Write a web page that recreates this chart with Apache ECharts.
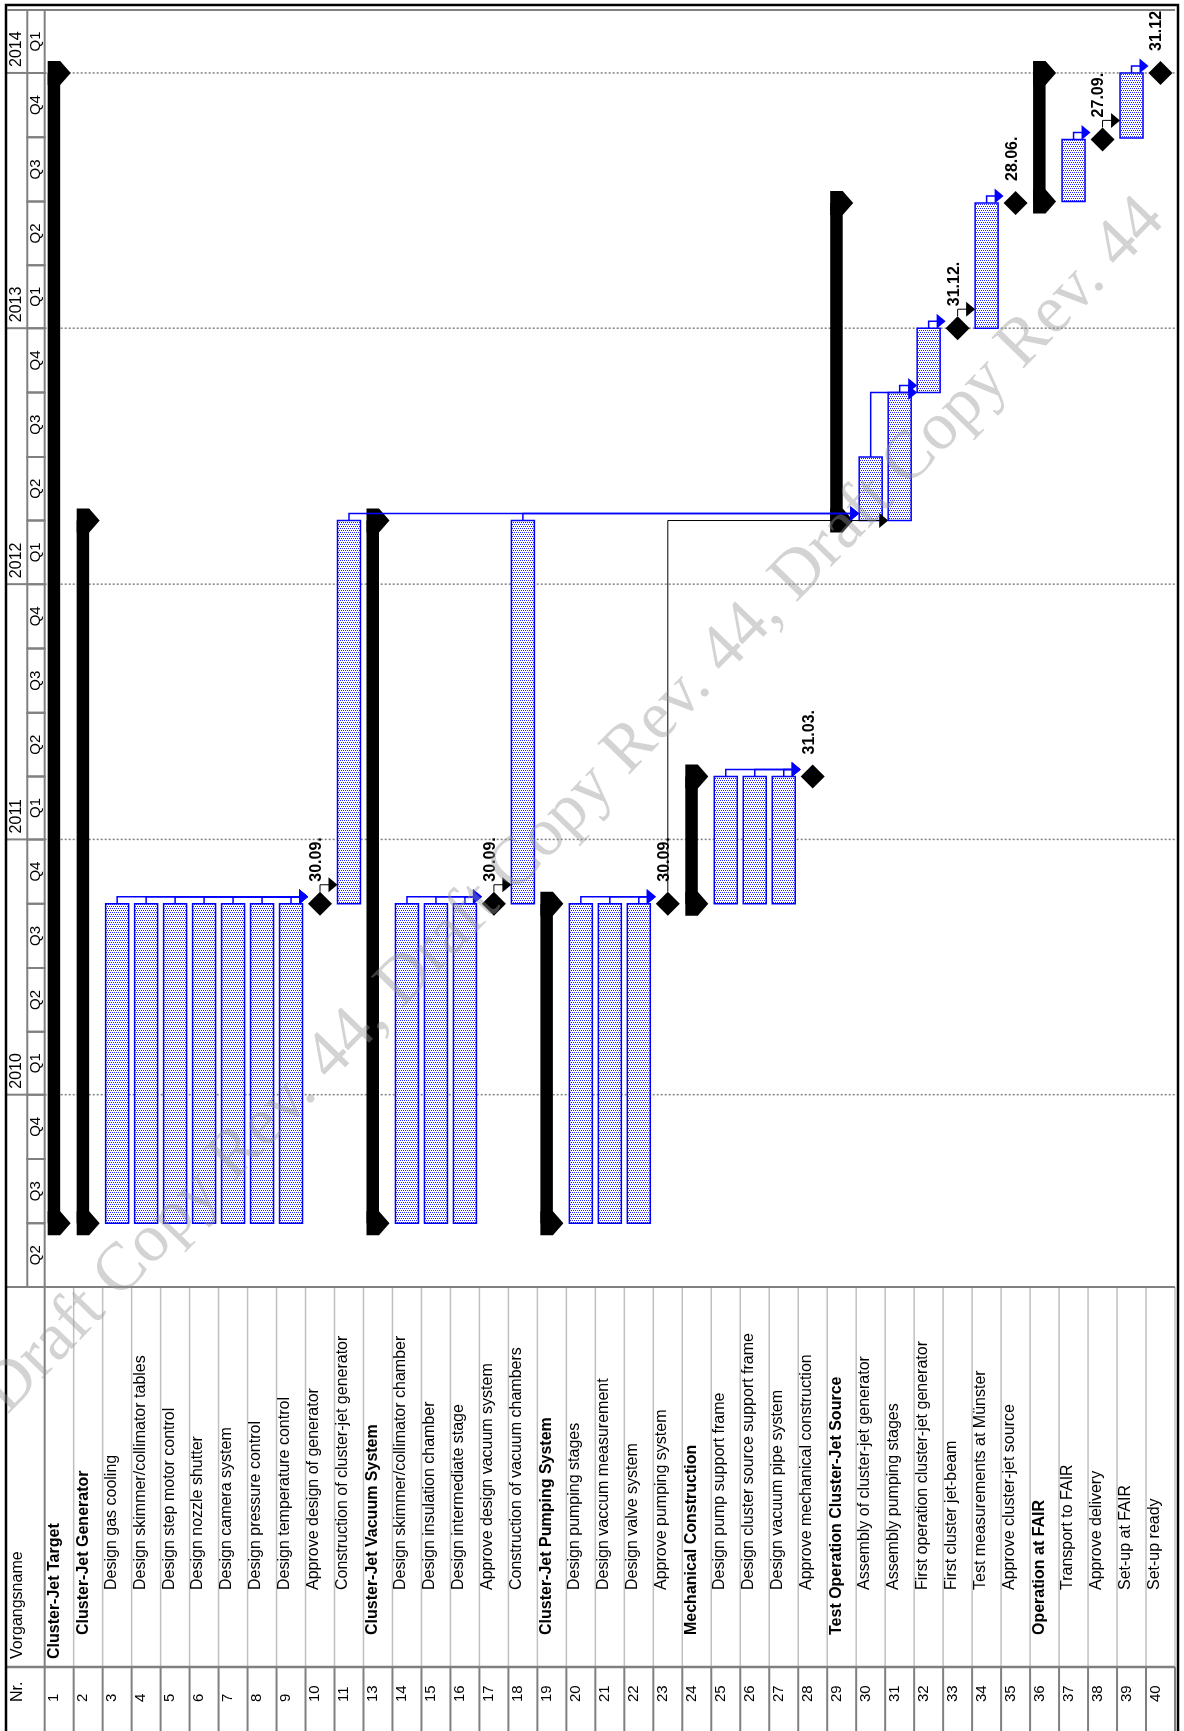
<!DOCTYPE html>
<html>
<head>
<meta charset="utf-8">
<script src="https://cdn.jsdelivr.net/npm/echarts@6/dist/echarts.min.js"></script>
<style>
html, body { margin: 0; padding: 0; background: #fff; }
#chart { width: 1184px; height: 1731px; }
</style>
</head>
<body>
<div id="chart"></div>
<script>
// rows of the project plan (Nr. 12 is not shown in the plan)
var taskNr = [1, 2, 3, 4, 5, 6, 7, 8, 9, 10, 11, 13, 14, 15, 16, 17, 18, 19, 20, 21, 22, 23, 24, 25, 26, 27, 28, 29, 30, 31, 32, 33, 34, 35, 36, 37, 38, 39, 40];
var taskName = [
  'Cluster-Jet Target', 'Cluster-Jet Generator', 'Design gas cooling', 'Design skimmer/collimator tables',
  'Design step motor control', 'Design nozzle shutter', 'Design camera system', 'Design pressure control',
  'Design temperature control', 'Approve design of generator', 'Construction of cluster-jet generator',
  'Cluster-Jet Vacuum System', 'Design skimmer/collimator chamber', 'Design insulation chamber',
  'Design intermediate stage', 'Approve design vacuum system', 'Construction of vacuum chambers',
  'Cluster-Jet Pumping System', 'Design pumping stages', 'Design vaccum measurement', 'Design valve system',
  'Approve pumping system', 'Mechanical Construction', 'Design pump support frame',
  'Design cluster source support frame', 'Design vacuum pipe system', 'Approve mechanical construction',
  'Test Operation Cluster-Jet Source', 'Assembly of cluster-jet generator', 'Assembly pumping stages',
  'First operation cluster-jet generator', 'First cluster jet-beam', 'Test measurements at Münster',
  'Approve cluster-jet source', 'Operation at FAIR', 'Transport to FAIR', 'Approve delivery',
  'Set-up at FAIR', 'Set-up ready'
];
var taskLevel = [0, 1, 2, 2, 2, 2, 2, 2, 2, 2, 2, 1, 2, 2, 2, 2, 2, 1, 2, 2, 2, 2, 1, 2, 2, 2, 2, 1, 2, 2, 2, 2, 2, 2, 1, 2, 2, 2, 2];
// S = summary, T = task, M = milestone
var taskKind = ['S', 'S', 'T', 'T', 'T', 'T', 'T', 'T', 'T', 'M', 'T', 'S', 'T', 'T', 'T', 'M', 'T', 'S', 'T', 'T', 'T', 'M', 'S', 'T', 'T', 'T', 'M', 'S', 'T', 'T', 'T', 'M', 'T', 'M', 'S', 'T', 'M', 'T', 'M'];
var taskStart = [
  '2009-07-01', '2009-07-01', '2009-07-01', '2009-07-01', '2009-07-01', '2009-07-01', '2009-07-01', '2009-07-01',
  '2009-07-01', '2010-09-30', '2010-10-01', '2009-07-01', '2009-07-01', '2009-07-01', '2009-07-01', '2010-09-30',
  '2010-10-01', '2009-07-01', '2009-07-01', '2009-07-01', '2009-07-01', '2010-09-30', '2010-10-01', '2010-10-01',
  '2010-10-01', '2010-10-01', '2011-03-31', '2012-04-01', '2012-04-01', '2012-04-01', '2012-10-01', '2012-12-31',
  '2013-01-01', '2013-06-28', '2013-07-01', '2013-07-01', '2013-09-27', '2013-09-30', '2013-12-31'
];
var taskEnd = [
  '2013-12-31', '2012-03-31', '2010-09-30', '2010-09-30', '2010-09-30', '2010-09-30', '2010-09-30', '2010-09-30',
  '2010-09-30', '2010-09-30', '2012-03-31', '2012-03-31', '2010-09-30', '2010-09-30', '2010-09-30', '2010-09-30',
  '2012-03-31', '2010-09-30', '2010-09-30', '2010-09-30', '2010-09-30', '2010-09-30', '2011-03-31', '2011-03-31',
  '2011-03-31', '2011-03-31', '2011-03-31', '2013-06-28', '2012-06-30', '2012-09-30', '2012-12-31', '2012-12-31',
  '2013-06-28', '2013-06-28', '2013-12-31', '2013-09-27', '2013-09-27', '2013-12-31', '2013-12-31'
];
var milestoneText = ['', '', '', '', '', '', '', '', '', '30.09.', '', '', '', '', '', '30.09.', '', '', '', '', '', '30.09.', '', '', '', '', '31.03.', '', '', '', '', '31.12.', '', '28.06.', '', '', '27.09.', '', '31.12'];

// finish-to-start links, by Nr.
var linkFrom = [3, 4, 5, 6, 7, 8, 9, 10, 14, 15, 16, 17, 20, 21, 22, 23, 25, 26, 27, 11, 18, 30, 31, 32, 33, 34, 37, 38, 39];
var linkTo = [10, 10, 10, 10, 10, 10, 10, 11, 17, 17, 17, 18, 23, 23, 23, 31, 28, 28, 28, 30, 30, 32, 32, 33, 34, 35, 38, 39, 40];

// timescale
var quarterStart = ['2009-04-01', '2009-07-01', '2009-10-01', '2010-01-01', '2010-04-01', '2010-07-01', '2010-10-01',
  '2011-01-01', '2011-04-01', '2011-07-01', '2011-10-01', '2012-01-01', '2012-04-01', '2012-07-01', '2012-10-01',
  '2013-01-01', '2013-04-01', '2013-07-01', '2013-10-01', '2014-01-01', '2014-04-01'];
var quarterLabel = ['Q2', 'Q3', 'Q4', 'Q1', 'Q2', 'Q3', 'Q4', 'Q1', 'Q2', 'Q3', 'Q4', 'Q1', 'Q2', 'Q3', 'Q4', 'Q1', 'Q2', 'Q3', 'Q4', 'Q1'];
var yearStart = ['2010-01-01', '2011-01-01', '2012-01-01', '2013-01-01', '2014-01-01'];
var yearLabel = ['2010', '2011', '2012', '2013', '2014'];

var DAY = 86400000;
function t(s) {
  var p = s.split('-');
  return Date.UTC(+p[0], +p[1] - 1, +p[2]);
}
var tMin = t(quarterStart[0]);
var tMax = t(quarterStart[quarterStart.length - 1]);

// x axis: one unit = one table row; negative part holds the timescale / header column
var X_MIN = -1.3, Q_COL = -0.6, X_MAX = taskNr.length;
var TABLE_H = 444, NR_LINE = 380, NR_START = 415;
var levelStart = [372, 348, 303];
var FONT = 'Liberation Sans, Arial, sans-serif';

// dotted fill of the task bars
var pat = document.createElement('canvas');
pat.width = 4; pat.height = 4;
var g = pat.getContext('2d');
g.fillStyle = '#ffffff';
g.fillRect(0, 0, 4, 4);
g.fillStyle = '#2020ff';
g.fillRect(0, 0, 1, 1);
g.fillRect(2, 0, 1, 1);
g.fillRect(1, 2, 1, 1);
g.fillRect(3, 2, 1, 1);
var barFill = { image: pat, repeat: 'repeat' };

function tStart(i) { return taskKind[i] === 'M' ? t(taskEnd[i]) + DAY : t(taskStart[i]); }
function tEnd(i) { return t(taskEnd[i]) + DAY; }
function rowOf(nr) { return taskNr.indexOf(nr); }

function vText(x, y, text, size, weight, align, valign) {
  return {
    type: 'text', x: x, y: y, rotation: Math.PI / 2,
    style: {
      text: text, fill: '#000', fontFamily: FONT, fontSize: size, fontWeight: weight || 'normal',
      align: align || 'left', verticalAlign: valign || 'top'
    }
  };
}

function renderBar(params, api) {
  var i = api.value(0);
  var x0 = api.coord([i, tMin])[0], x1 = api.coord([i + 1, tMin])[0];
  var ys = api.coord([i, api.value(1)])[1], ye = api.coord([i, api.value(2)])[1];
  var k = taskKind[i];
  if (k === 'T') {
    return {
      type: 'rect', shape: { x: x0 + 3, y: ye, width: x1 - x0 - 6, height: ys - ye },
      style: { fill: barFill, stroke: '#0000ff', lineWidth: 1.5 }
    };
  }
  if (k === 'S') {
    var bx = x0 + 3;
    var cap = function (yc) {
      return {
        type: 'polygon',
        shape: { points: [[bx, yc - 12], [bx + 12.5, yc - 12], [bx + 23, yc], [bx + 12.5, yc + 12], [bx, yc + 12]] },
        style: { fill: '#000' }
      };
    };
    return {
      type: 'group', children: [
        { type: 'rect', shape: { x: bx, y: ye, width: 12.5, height: ys - ye }, style: { fill: '#000' } },
        cap(ys), cap(ye)
      ]
    };
  }
  var cx = (x0 + x1) / 2;
  return {
    type: 'group', children: [
      {
        type: 'polygon', shape: { points: [[cx, ye - 12], [cx + 12, ye], [cx, ye + 12], [cx - 12, ye]] },
        style: { fill: '#000' }
      },
      vText(cx - 11.5, ye - 22, milestoneText[i], 16, 'bold')
    ]
  };
}

function renderLink(params, api) {
  var k = api.value(0);
  var a = rowOf(linkFrom[k]), b = rowOf(linkTo[k]);
  var ax = api.coord([a + 0.5, tMin])[0];
  var aTop = api.coord([a, tEnd(a)])[1];
  if (taskKind[a] === 'M') aTop -= 12;
  var bx0 = api.coord([b, tMin])[0], bx = api.coord([b + 0.5, tMin])[0];
  var bStart = api.coord([b, tStart(b)])[1];
  var yl = Math.min(aTop - 7, bStart);
  var tip = taskKind[b] === 'M' ? bx - 12 : bx0 + 3;
  var col = taskKind[a] === 'M' ? '#000' : '#0000ff';
  return {
    type: 'group', children: [
      {
        type: 'polyline', shape: { points: [[ax, aTop], [ax, yl], [tip - 6, yl]] },
        style: { stroke: col, lineWidth: taskKind[a] === 'M' ? 1 : 1.5, fill: null }
      },
      { type: 'polygon', shape: { points: [[tip, yl], [tip - 9, yl - 7.5], [tip - 9, yl + 7.5]] }, style: { fill: col } }
    ]
  };
}

function renderQuarter(params, api) {
  var xq = api.coord([Q_COL, tMin])[0], xg = api.coord([0, tMin])[0];
  var ys = api.coord([0, api.value(0)])[1], ye = api.coord([0, api.value(1)])[1];
  return {
    type: 'group', children: [
      { type: 'rect', shape: { x: xq, y: ye, width: xg - xq, height: ys - ye }, style: { fill: null, stroke: '#808080', lineWidth: 2 } },
      vText(xq + 1.5, (ys + ye) / 2, quarterLabel[api.value(2)], 15, 'normal', 'center')
    ]
  };
}

function renderYear(params, api) {
  var ts = api.value(0);
  var xa = api.coord([X_MIN, ts])[0], xq = api.coord([Q_COL, ts])[0];
  var xg = api.coord([0, ts])[0], xe = api.coord([X_MAX, ts])[0];
  var y = api.coord([0, ts])[1];
  return {
    type: 'group', children: [
      { type: 'line', shape: { x1: xa, y1: y, x2: xq, y2: y }, style: { stroke: '#808080', lineWidth: 2 } },
      { type: 'line', shape: { x1: xg, y1: y, x2: xe, y2: y }, style: { stroke: '#808080', lineWidth: 1.5, lineDash: [2, 2] } },
      vText(xa + 2, y - 6, yearLabel[api.value(1)], 16)
    ]
  };
}

function renderRow(params, api) {
  var i = api.value(0);
  var x0 = api.coord([i, 0])[0], x1 = api.coord([i + 1, 0])[0];
  var yTop = api.coord([i, 0])[1], yMid = api.coord([i, NR_LINE])[1], yBot = api.coord([i, TABLE_H])[1];
  var bold = taskKind[i] === 'S';
  return {
    type: 'group', children: [
      { type: 'line', shape: { x1: x1, y1: yTop, x2: x1, y2: yMid }, style: { stroke: '#c0c0c0', lineWidth: 1.5 } },
      { type: 'line', shape: { x1: x1, y1: yMid, x2: x1, y2: yBot }, style: { stroke: '#808080', lineWidth: 2 } },
      vText(x0 + (bold ? 1.5 : 0.5), api.coord([i, levelStart[taskLevel[i]]])[1], taskName[i], 16, bold ? 'bold' : 'normal'),
      vText(x0 + 2, api.coord([i, NR_START])[1], String(taskNr[i]), 15)
    ]
  };
}

function renderHead(params, api) {
  var xa = api.coord([X_MIN, 0])[0], x0 = api.coord([0, 0])[0], xe = api.coord([X_MAX, 0])[0];
  var yTop = api.coord([0, 0])[1], yMid = api.coord([0, NR_LINE])[1], yBot = api.coord([0, TABLE_H])[1];
  return {
    type: 'group', children: [
      { type: 'line', shape: { x1: x0, y1: yTop, x2: x0, y2: yBot }, style: { stroke: '#808080', lineWidth: 2 } },
      { type: 'line', shape: { x1: xa, y1: yTop, x2: xe, y2: yTop }, style: { stroke: '#808080', lineWidth: 2 } },
      { type: 'line', shape: { x1: xa, y1: yMid, x2: xe, y2: yMid }, style: { stroke: '#808080', lineWidth: 2.5 } },
      vText(xa + 3, api.coord([0, levelStart[0]])[1], 'Vorgangsname', 16),
      vText(xa + 3, api.coord([0, NR_START])[1], 'Nr.', 16)
    ]
  };
}

var barData = taskNr.map(function (nr, i) { return [i, tStart(i), tEnd(i)]; });
var linkData = linkFrom.map(function (f, k) { return [k]; });
var quarterData = quarterLabel.map(function (q, k) { return [t(quarterStart[k]), t(quarterStart[k + 1]), k]; });
var yearData = yearStart.map(function (y, k) { return [t(y), k]; });
var rowData = taskNr.map(function (nr, i) { return [i]; });

var chart = echarts.init(document.getElementById('chart'));
chart.setOption({
  animation: false,
  backgroundColor: '#fff',
  grid: [
    { left: 7, top: 10, width: 1168, height: 1277 },
    { left: 7, top: 1287, width: 1168, height: TABLE_H }
  ],
  xAxis: [
    { gridIndex: 0, type: 'value', min: X_MIN, max: X_MAX, show: false },
    { gridIndex: 1, type: 'value', min: X_MIN, max: X_MAX, show: false }
  ],
  yAxis: [
    { gridIndex: 0, type: 'time', min: tMin, max: tMax, show: false },
    { gridIndex: 1, type: 'value', min: 0, max: TABLE_H, inverse: true, show: false }
  ],
  graphic: [
    {
      type: 'rect', shape: { x: 6, y: 5, width: 1172, height: 1760 },
      style: { fill: null, stroke: '#000', lineWidth: 2.5 }, z: 50
    },
    { type: 'line', shape: { x1: 7, y1: 10, x2: 1175, y2: 10 }, style: { stroke: '#808080', lineWidth: 2 }, z: 50 },
    {
      type: 'text', x: 574, y: 806, rotation: 0.8, z: 60,
      style: {
        text: 'Draft Copy Rev. 44, Draft Copy Rev. 44, Draft Copy Rev. 44',
        fill: 'rgba(150,150,150,0.42)', fontFamily: 'Liberation Serif, DejaVu Serif, serif', fontSize: 68,
        align: 'center', verticalAlign: 'middle'
      }
    }
  ],
  series: [
    { type: 'custom', xAxisIndex: 0, yAxisIndex: 0, z: 1, renderItem: renderYear, data: yearData },
    { type: 'custom', xAxisIndex: 0, yAxisIndex: 0, z: 2, renderItem: renderQuarter, data: quarterData },
    { type: 'custom', xAxisIndex: 0, yAxisIndex: 0, z: 3, renderItem: renderBar, data: barData },
    { type: 'custom', xAxisIndex: 0, yAxisIndex: 0, z: 4, renderItem: renderLink, data: linkData },
    { type: 'custom', xAxisIndex: 1, yAxisIndex: 1, z: 2, renderItem: renderRow, data: rowData },
    { type: 'custom', xAxisIndex: 1, yAxisIndex: 1, z: 3, renderItem: renderHead, data: [[0]] }
  ]
});
</script>
</body>
</html>
